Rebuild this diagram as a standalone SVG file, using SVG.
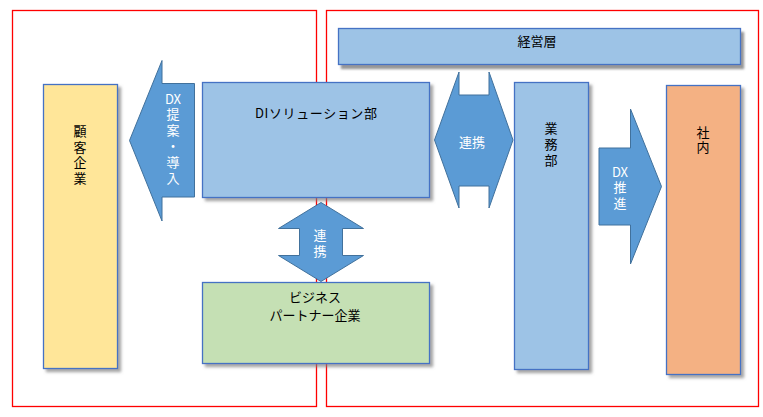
<svg xmlns="http://www.w3.org/2000/svg" width="763" height="417" viewBox="0 0 763 417">
<defs>
<filter id="sh" x="-10%" y="-10%" width="130%" height="130%">
<feDropShadow dx="3" dy="3" stdDeviation="1.5" flood-color="#7f7f7f" flood-opacity="0.7"/>
</filter>
<filter id="sh2" x="-10%" y="-10%" width="130%" height="140%">
<feDropShadow dx="3" dy="4" stdDeviation="0.8" flood-color="#8c8c8c" flood-opacity="0.9"/>
</filter>
</defs>
<style>
.frame{fill:none;stroke:#ff0000;stroke-width:1.3}
.box{stroke:#4472c4;stroke-width:1.3}
.blue{fill:#9dc3e6}
.yellow{fill:#ffe699}
.green{fill:#c5e0b4}
.orange{fill:#f4b183}
.arrow{fill:#5b9bd5;stroke:#41719c;stroke-width:1}
text{font-family:"Noto Sans CJK JP","Noto Sans",sans-serif;font-size:13px;text-anchor:middle;dominant-baseline:central}
.v{writing-mode:vertical-rl;text-anchor:start;dominant-baseline:auto}
.dark{fill:#000}
.white{fill:#fff}
</style>
<g id="frames">
<rect class="frame" x="12.5" y="10.5" width="304" height="396"/>
<rect class="frame" x="326.5" y="10.5" width="432" height="396"/>
</g>
<g id="node-keieiso">
<rect class="box blue" x="338.5" y="28.5" width="402" height="36" filter="url(#sh2)"/>
<text class="dark" x="537" y="40">経営層</text>
</g>
<g id="node-kokyaku">
<rect class="box yellow" x="43.5" y="84.5" width="74" height="284" filter="url(#sh)"/>
<text class="dark v" x="80" y="124.5" letter-spacing="2.6">顧客企業</text>
</g>
<g id="node-di">
<rect class="box blue" x="202.5" y="82.5" width="227" height="115" filter="url(#sh)"/>
<text class="dark" x="316" y="112" textLength="122" lengthAdjust="spacing">DIソリューション部</text>
</g>
<g id="node-partner">
<rect class="box green" x="202.5" y="282.5" width="227" height="81" filter="url(#sh)"/>
<text class="dark" font-size="12.5"><tspan x="315" y="295.5">ビジネス</tspan><tspan x="315" y="313.5">パートナー企業</tspan></text>
</g>
<g id="node-gyomu">
<rect class="box blue" x="514.5" y="82.5" width="74" height="287" filter="url(#sh)"/>
<text class="dark v" x="551" y="121.5" letter-spacing="3">業務部</text>
</g>
<g id="node-shanai">
<rect class="box orange" x="666.5" y="85.5" width="74" height="289" filter="url(#sh)"/>
<text class="dark v" x="703" y="125.5" letter-spacing="2">社内</text>
</g>
<g id="connectors">
<g id="arrow-dx-teian">
<polygon class="arrow" points="129.5,140.5 162,60.5 162,83.5 194.5,83.5 194.5,197 162,197 162,221 "/>
<text class="white" x="173" y="98" font-size="12">DX</text>
<text class="white v" x="173" y="107.5" letter-spacing="3">提案・導入</text>
</g>
<g id="arrow-renkei-h">
<polygon class="arrow" points="434.5,140 459,72 459,95 489,95 489,72 513,140 489,208 489,186 459,186 459,208"/>
<text class="white" x="472" y="141">連携</text>
</g>
<g id="arrow-renkei-v">
<polygon class="arrow" points="321,202.5 363.5,228.5 342.5,228.5 342.5,255.5 363.5,255.5 321,281.5 278.5,255.5 299.5,255.5 299.5,228.5 278.5,228.5"/>
<text class="white v" x="320" y="228.5" letter-spacing="3">連携</text>
</g>
<g id="arrow-dx-suishin">
<polygon class="arrow" points="599,148 630.5,148 630.5,109 661.5,186.5 630.5,264 630.5,225 599,225"/>
<text class="white" x="620" y="171" font-size="12">DX</text>
<text class="white v" x="620" y="180.5" letter-spacing="3">推進</text>
</g>
</g>
</svg>
